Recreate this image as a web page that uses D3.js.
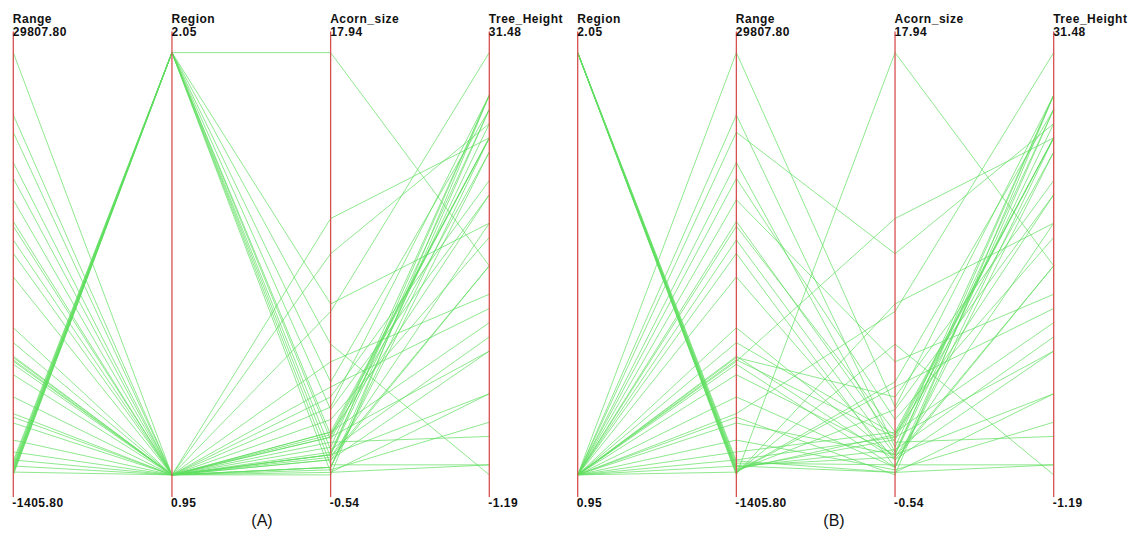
<!DOCTYPE html>
<html>
<head>
<meta charset="utf-8">
<script src="https://cdn.jsdelivr.net/npm/d3@7"></script>
<style>
  html, body { margin: 0; padding: 0; background: #fff; }
  svg { display: block; }
  .axis-name, .axis-val { font-family: "Liberation Sans", Arial, sans-serif; font-weight: bold; font-size: 12px; letter-spacing: 0.5px; fill: #111; }
  .panel-tag { font-family: "Liberation Sans", Arial, sans-serif; font-size: 16px; fill: #111; }
</style>
</head>
<body>
<svg id="chart" width="1136" height="533"></svg>
<script>
// Oak species: geographic range, region code, acorn size, tree height
const region = [1,1,1,1,1,1,1,1,1,1,1,1,1,1,1,1,1,1,1,1,1,1,1,1,1,1,1,1,
                2,2,2,2,2,2,2,2,2,2,2];
const range = [28389, 24196, 23038, 19938, 17042, 16720, 13311, 7985, 7900, 7743, 7646, 7450, 6742, 4130,
               3892, 1017, 21000, 18500, 15800, 14900, 9900, 8900, 5250, 3500, 2350, 1550, 610, 200,
               13, 80, 150, 220, 300, 380, 450, 550, 650, 800, 950];
const acornSize = [3.0, 1.4, 9.1, 2.5, 1.6, 2.0, 0.9, 0.9, 3.4, 1.8, 10.5, 0.6, 1.1, 6.8,
                   0.3, 1.8, 1.2, 4.8, 1.1, 0.6, 1.0, 1.9, 0.6, 1.1, 0.5, 2.0, 0.4, 3.8,
                   17.1, 7.1, 5.5, 4.0, 2.9, 1.9, 1.7, 1.3, 1.0, 0.7, 0.4];
const treeHeight = [27, 27, 25, 17, 3, 24, 9, 15, 21, 24, 24, 24, 27, 30,
                    27, 9, 26, 13, 25, 23, 18, 20, 26, 6, 4, 11, 1, 12,
                    15, 18, 0.3, 26, 20, 24, 23, 10, 15, 1, 6];

// Axis extents (data range padded by 5% on each side) and their printed labels
const dimNames = ["Range", "Region", "Acorn_size", "Tree_Height"];
const axisMin = [-1405.80, 0.95, -0.54, -1.19];
const axisMax = [29807.80, 2.05, 17.94, 31.48];

// Two panels with different axis orders
const panelOrders = [
  ["Range", "Region", "Acorn_size", "Tree_Height"],
  ["Region", "Range", "Acorn_size", "Tree_Height"]
];
const panelTags = ["(A)", "(B)"];

const columns = { "Range": range, "Region": region, "Acorn_size": acornSize, "Tree_Height": treeHeight };
const rows = region.map((_, i) => Object.fromEntries(dimNames.map(d => [d, columns[d][i]])));

const svg = d3.select("#chart");
const plotTop = 31.5, plotBottom = 496;

const yScales = {};
dimNames.forEach((d, i) => {
  yScales[d] = d3.scaleLinear().domain([axisMin[i], axisMax[i]]).range([plotBottom, plotTop]);
});

const panelRanges = [[13.3, 489.3], [577.7, 1053.7]];
const tagX = [262, 834];

panelOrders.forEach((order, p) => {
  const x = d3.scalePoint().domain(order).range(panelRanges[p]);
  const g = svg.append("g");

  // polylines, one per species
  const line = d3.line().x(d => d[0]).y(d => d[1]);
  g.append("g")
    .selectAll("path")
    .data(rows)
    .join("path")
    .attr("d", r => line(order.map(d => [x(d), yScales[d](r[d])])))
    .attr("fill", "none")
    .attr("stroke", "rgb(95,222,95)")
    .attr("stroke-opacity", 0.7)
    .attr("stroke-width", 1);

  // vertical axes with their names and extent labels
  order.forEach(d => {
    const i = dimNames.indexOf(d);
    const ax = g.append("g").attr("transform", `translate(${x(d)},0)`);
    ax.append("line")
      .attr("y1", yScales[d].range()[1]).attr("y2", yScales[d].range()[0] + 1)
      .attr("stroke", "rgb(215,80,80)").attr("stroke-width", 1.3);
    ax.append("text").attr("class", "axis-name").attr("x", -0.5).attr("y", 22.5).text(d);
    ax.append("text").attr("class", "axis-val").attr("x", -0.5).attr("y", 36).text(axisMax[i].toFixed(2));
    ax.append("text").attr("class", "axis-val").attr("x", -1).attr("y", 507).text(axisMin[i].toFixed(2));
  });

  svg.append("text").attr("class", "panel-tag")
    .attr("x", tagX[p]).attr("y", 526).attr("text-anchor", "middle").text(panelTags[p]);
});
</script>
</body>
</html>
